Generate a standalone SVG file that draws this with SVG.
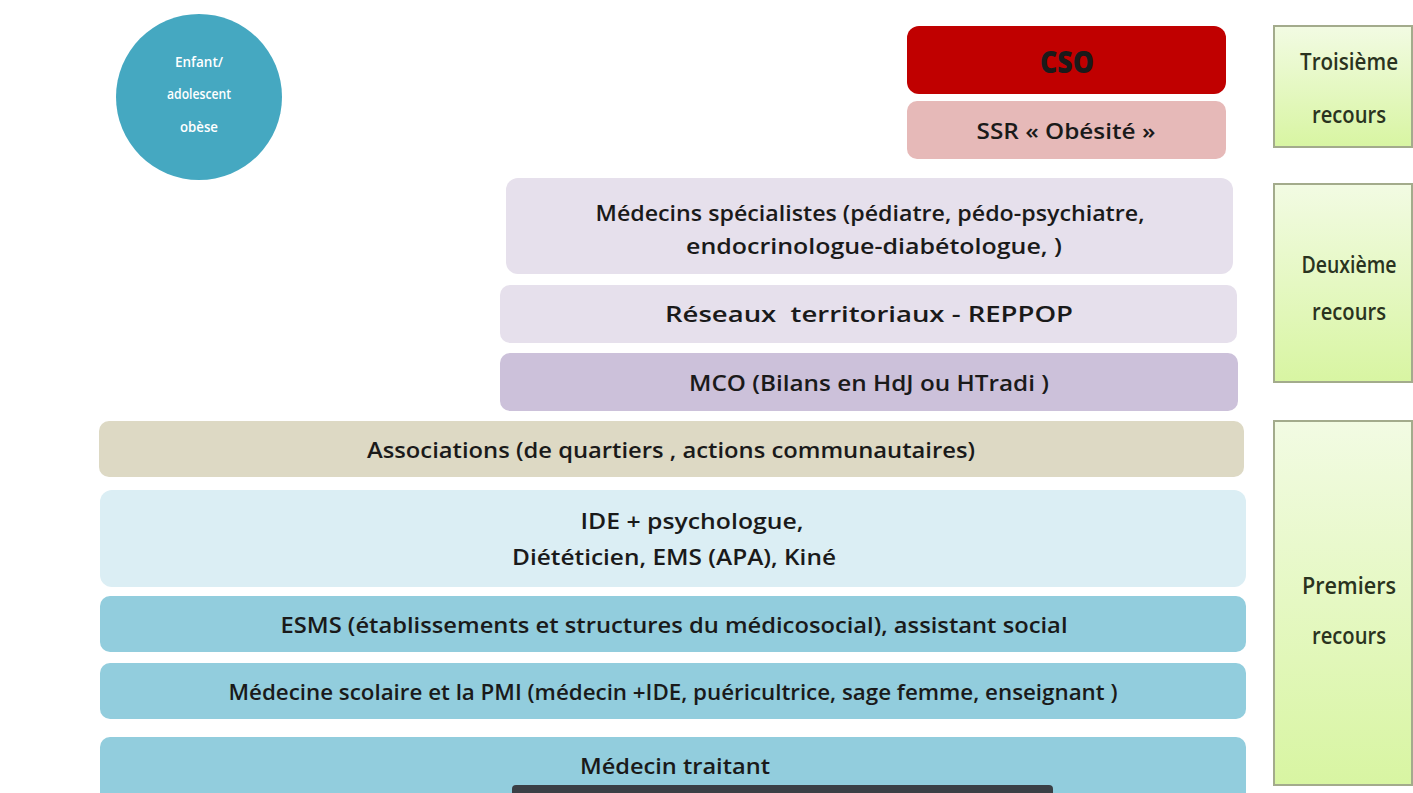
<svg xmlns="http://www.w3.org/2000/svg" width="1413" height="793" viewBox="0 0 1413 793">
<style>
.t{font-family:"Open Sans","Liberation Sans",sans-serif;font-weight:600;font-size:21px;fill:#1a1a1a;text-anchor:middle;dominant-baseline:central}
.r{font-family:"Open Sans","Liberation Sans",sans-serif;font-size:23px;font-weight:600;fill:#2a3320;text-anchor:middle;dominant-baseline:central}
.c{font-family:"Open Sans","Liberation Sans",sans-serif;font-size:14px;fill:#ffffff;text-anchor:middle;dominant-baseline:central;font-weight:600}
.side{fill:url(#g);stroke:#a3ab8c;stroke-width:2}
</style>
<defs>
<linearGradient id="g" x1="0" y1="0" x2="0" y2="1">
<stop offset="0" stop-color="#f2fbe3"/>
<stop offset="1" stop-color="#d8f5a2"/>
</linearGradient>
</defs>
<rect width="1413" height="793" fill="#ffffff"/>
<g id="enfant">
<circle cx="199" cy="97" r="83" fill="#45a8c1"/>
<text class="c" x="199" y="61" textLength="48" lengthAdjust="spacingAndGlyphs">Enfant/</text>
<text class="c" x="199" y="93" textLength="64" lengthAdjust="spacingAndGlyphs">adolescent</text>
<text class="c" x="199" y="126" textLength="38" lengthAdjust="spacingAndGlyphs">obèse</text>
</g>
<g id="cso">
<rect x="907" y="26" width="319" height="68" rx="12" fill="#c00000"/>
<text class="t" x="1067" y="61" style="font-size:30px;font-weight:800" textLength="54" lengthAdjust="spacingAndGlyphs" fill="#2a0000">CSO</text>
</g>
<g id="ssr">
<rect x="907" y="101" width="319" height="58" rx="10" fill="#e6b9b8"/>
<text class="t" x="1066" y="131" textLength="179" lengthAdjust="spacingAndGlyphs">SSR « Obésité »</text>
</g>
<g id="specialistes">
<rect x="506" y="178" width="727" height="96" rx="12" fill="#e6e0ec"/>
<text class="t" x="870" y="213" textLength="549" lengthAdjust="spacingAndGlyphs">Médecins spécialistes (pédiatre, pédo-psychiatre,</text>
<text class="t" x="874" y="246" textLength="376" lengthAdjust="spacingAndGlyphs">endocrinologue-diabétologue, )</text>
</g>
<g id="reseaux">
<rect x="500" y="285" width="737" height="58" rx="10" fill="#e6e0ec"/>
<text class="t" x="869" y="314" textLength="408" lengthAdjust="spacingAndGlyphs" xml:space="preserve">Réseaux  territoriaux - REPPOP</text>
</g>
<g id="mco">
<rect x="500" y="353" width="738" height="58" rx="10" fill="#ccc1da"/>
<text class="t" x="869" y="383" textLength="360" lengthAdjust="spacingAndGlyphs">MCO (Bilans en HdJ ou HTradi )</text>
</g>
<g id="associations">
<rect x="99" y="421" width="1145" height="56" rx="10" fill="#ddd9c4"/>
<text class="t" x="671" y="450" textLength="608" lengthAdjust="spacingAndGlyphs">Associations (de quartiers , actions communautaires)</text>
</g>
<g id="ide">
<rect x="100" y="490" width="1146" height="97" rx="12" fill="#dbeef4"/>
<text class="t" x="692" y="521" textLength="223" lengthAdjust="spacingAndGlyphs">IDE + psychologue,</text>
<text class="t" x="674" y="557" textLength="324" lengthAdjust="spacingAndGlyphs">Diététicien, EMS (APA), Kiné</text>
</g>
<g id="esms">
<rect x="100" y="596" width="1146" height="56" rx="10" fill="#92cddd"/>
<text class="t" x="674" y="625" textLength="787" lengthAdjust="spacingAndGlyphs">ESMS (établissements et structures du médicosocial), assistant social</text>
</g>
<g id="scolaire">
<rect x="100" y="663" width="1146" height="56" rx="10" fill="#92cddd"/>
<text class="t" x="673" y="692" textLength="889" lengthAdjust="spacingAndGlyphs">Médecine scolaire et la PMI (médecin +IDE, puéricultrice, sage femme, enseignant )</text>
</g>
<g id="traitant">
<rect x="100" y="737" width="1146" height="70" rx="10" fill="#92cddd"/>
<text class="t" x="675" y="766" textLength="190" lengthAdjust="spacingAndGlyphs">Médecin traitant</text>
<rect x="512" y="785" width="541" height="12" rx="4" fill="#3a3f45"/>
</g>
<g id="troisieme">
<rect class="side" x="1274" y="26" width="138" height="121"/>
<text class="r" x="1349" y="61" textLength="98" lengthAdjust="spacingAndGlyphs">Troisième</text>
<text class="r" x="1349" y="114" textLength="74" lengthAdjust="spacingAndGlyphs">recours</text>
</g>
<g id="deuxieme">
<rect class="side" x="1274" y="184" width="138" height="198"/>
<text class="r" x="1349" y="264" textLength="95" lengthAdjust="spacingAndGlyphs">Deuxième</text>
<text class="r" x="1349" y="311" textLength="74" lengthAdjust="spacingAndGlyphs">recours</text>
</g>
<g id="premiers">
<rect class="side" x="1274" y="421" width="138" height="364"/>
<text class="r" x="1349" y="585" textLength="94" lengthAdjust="spacingAndGlyphs">Premiers</text>
<text class="r" x="1349" y="635" textLength="74" lengthAdjust="spacingAndGlyphs">recours</text>
</g>
<g id="connectors"/>
</svg>
